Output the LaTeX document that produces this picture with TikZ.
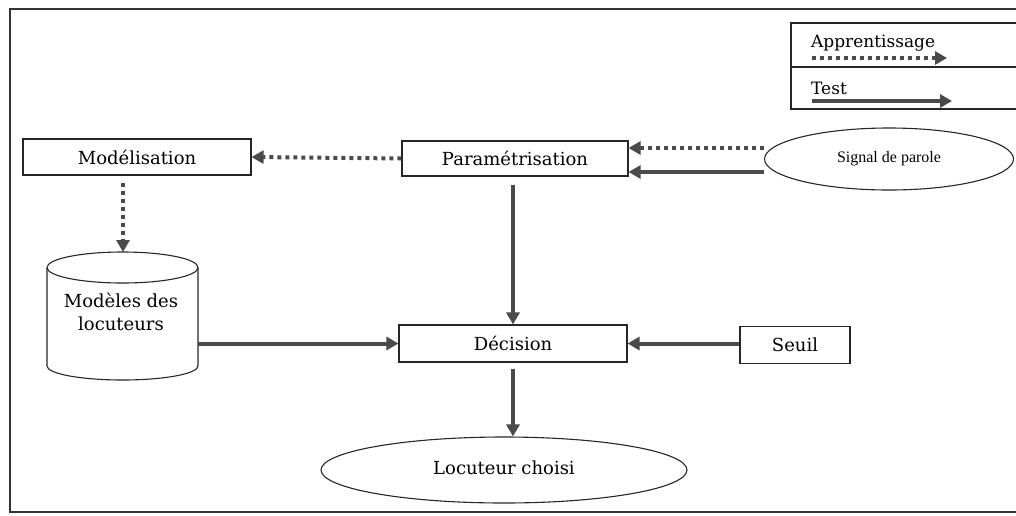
\documentclass[tikz,border=0pt]{standalone}
\usepackage{fontspec}
\setmainfont{DejaVu Serif}
\newfontfamily\smallserif{Liberation Serif}
\usetikzlibrary{arrows.meta,shapes.geometric}
\definecolor{arr}{HTML}{4A4A4A}
\tikzset{
  box/.style={draw=black!85, line width=1.1pt, rectangle, inner sep=0pt, font=\fontsize{18}{21}\selectfont},
  oval/.style={draw=black!85, line width=1.1pt, ellipse, inner sep=0pt},
  testarrow/.style={draw=arr, line width=4pt, -{Triangle[length=12pt,width=13pt]}},
  learnarrow/.style={draw=arr, line width=4pt, dash pattern=on 4pt off 4pt, -{Triangle[length=12pt,width=13pt]}},
  lbl/.style={inner sep=0pt, font=\fontsize{18}{21}\selectfont},
  leglbl/.style={inner sep=0pt, font=\fontsize{17}{20}\selectfont}
}
\begin{document}
\begin{tikzpicture}[x=1pt,y=-1pt]
\useasboundingbox (0,0) rectangle (1016,515);
\clip (0,0) rectangle (1016,515);
% outer frame
\draw[black!80, line width=1.3pt] (1030,9) -- (10,9) -- (10,512) -- (1030,512);
% legend
\draw[black!85, line width=1.1pt] (791,23) rectangle (1030,109);
\draw[black!85, line width=1.1pt] (791,67) -- (1030,67);
\node[leglbl, anchor=west] (lapp) at (811,43) {Apprentissage};
\node[leglbl, anchor=west] (ltest) at (811,88) {Test};
\coordinate (la1) at (812,58);
\coordinate (la2) at (947,58);
\coordinate (lt1) at (812,101);
\coordinate (lt2) at (952,101);
\draw[learnarrow] (la1) -- (la2);
\draw[testarrow] (lt1) -- (lt2);
% nodes
\node[box, minimum width=228pt, minimum height=36pt] (mod) at (137,157) {Modélisation};
\node[box, minimum width=226pt, minimum height=35pt] (par) at (515,158.5) {Paramétrisation};
\node[box, minimum width=228pt, minimum height=37pt] (dec) at (513,343.5) {Décision};
\node[box, minimum width=110pt, minimum height=37pt] (seuil) at (795,345) {Seuil};
\node[oval, minimum width=249pt, minimum height=62pt, font=\smallserif\fontsize{16}{18}\selectfont] (sig) at (889,159) {\raisebox{5pt}{Signal de parole}};
\node[oval, minimum width=366pt, minimum height=66pt, font=\fontsize{18}{21}\selectfont] (loc) at (504,470) {\raisebox{4pt}{Locuteur choisi}};
% cylinder
\draw[black!85, line width=1.1pt] (122.5,267.5) ellipse [x radius=75.5pt, y radius=15.5pt];
\draw[black!85, line width=1.1pt] (47,267.5) -- (47,366) arc[start angle=180, end angle=360, x radius=75.5pt, y radius=14pt] -- (198,267.5);
\node[inner sep=0pt, minimum width=151pt, minimum height=98.5pt] (cyl) at (122.5,316.75) {};
\node[lbl, align=center] (cyltext) at (121,312) {Modèles des\\[2pt]locuteurs};
% connectors
\draw[learnarrow] (par.west) -- (mod.east);
\draw[learnarrow, shorten <=7pt] (mod.south -| 123,0) -- (123,252);
\draw[learnarrow] (sig.west |- 0,148) -- (par.east |- 0,148);
\draw[testarrow] (sig.west |- 0,172) -- (par.east |- 0,172);
\draw[testarrow, shorten <=8pt] (par.south -| 513,0) -- (dec.north -| 513,0);
\draw[testarrow] (cyl.east |- dec.west) -- (dec.west);
\draw[testarrow] (seuil.west |- dec.east) -- (dec.east);
\draw[testarrow, shorten <=6pt] (dec.south -| 513,0) -- (loc.north -| 513,0);
\end{tikzpicture}
\end{document}
